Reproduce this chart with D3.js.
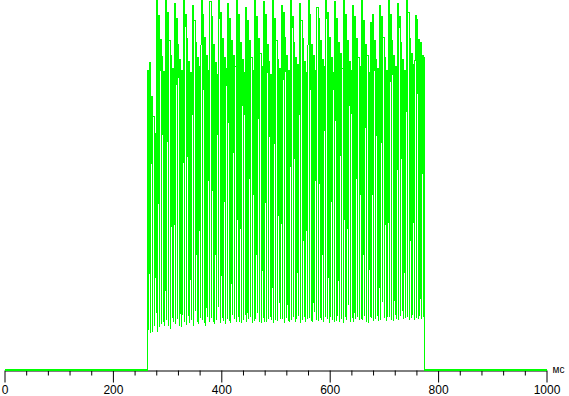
<!DOCTYPE html>
<html>
<head>
<meta charset="utf-8">
<script src="https://cdn.jsdelivr.net/npm/d3@7"></script>
<style>
  html, body { margin: 0; padding: 0; background: #fff; }
  svg { display: block; }
</style>
</head>
<body>
<svg id="chart" width="569" height="396"></svg>
<script>
// ---- data (time in ms, brightness in % of the top of the plot) ----
const majorTicks = [0, 200, 400, 600, 800, 1000];
const minorTicks = [40, 80, 120, 160, 240, 280, 320, 360, 440, 480, 520, 560, 640, 680, 720, 760, 840, 880, 920, 960];
const unitLabel = "мс";
const pulseStart = 264;   // ms, rising edge
const pulseEnd = 774;     // ms, falling edge

// plateau level of each oscillation (one row per ~16.4 ms envelope period)
const highs = [
  81, 83, 74, 68.5, 64,
  101, 95.7, 89.4, 84.6, 80.8,
  100, 96.5, 89, 85, 81.5,
  99, 95, 88, 84, 81,
  101, 96, 89.5, 83.5, 80.5,
  98.5, 94.5, 88.5, 84.5, 82,
  100.5, 96, 90, 85, 81,
  99.5, 95.5, 88, 83, 80,
  101, 96.5, 89.5, 84.5, 81.5,
  99, 95, 89, 85, 82,
  100, 96, 88.5, 84, 80.5,
  98, 94.5, 89, 84.5, 81,
  100.5, 95.5, 89.5, 85.5, 82,
  99.5, 96, 88, 83.5, 80,
  101, 95, 89, 84, 81.5,
  98.5, 96.5, 90, 85, 81,
  100, 95.5, 88.5, 84.5, 82.5,
  99, 94.5, 89.5, 83.5, 80.5,
  100.5, 96, 88, 85, 81,
  98, 95, 89, 84, 82,
  101, 96.5, 90, 84.5, 80.5,
  99.5, 95, 88.5, 85.5, 81.5,
  100, 96, 89, 83.5, 81,
  98.5, 95.5, 89.5, 84.5, 82,
  100.5, 94.5, 88, 85, 80.5,
  94, 96, 89, 84, 81.5,
  98.6, 95.5, 90, 84.5, 81,
  101, 96, 89, 85, 82,
  99, 95.5, 88.5, 84, 81,
  100, 96.5, 89.5, 85.5, 82.5,
  95.7, 94.6, 89.4, 88.6, 85.1,
  84.6
];

// bottom of each oscillation dip
const lows = [
  10.7, 10, 10.3, 11.8, 15.5,
  10.4, 11.5, 12.5, 13, 12,
  13.5, 12, 11, 14, 13,
  12.5, 13.8, 12, 11.5, 15,
  13, 12.2, 14.5, 12.8, 13.5,
  12, 16, 13, 12.5, 14,
  13.5, 12.7, 12, 14.2, 13,
  14, 13, 12.4, 13.6, 17,
  12.8, 14, 13.2, 12.5, 13.8,
  13.3, 12.6, 15, 13.8, 12.9,
  14.2, 13.1, 12.7, 13.5, 14.8,
  12.9, 13.7, 14.3, 12.6, 13.2,
  13.8, 15.5, 13, 12.8, 14,
  13.1, 12.9, 13.9, 14.4, 13.4,
  12.7, 13.6, 13.2, 18, 13.9,
  13.9, 12.8, 14.1, 13.3, 12.9,
  13.4, 14.3, 12.9, 13.7, 14.6,
  12.8, 13.5, 14.2, 13.1, 13.8,
  14.1, 13.2, 12.9, 15.8, 13.4,
  13.3, 14, 13.6, 12.9, 14.4,
  13.9, 12.8, 14.3, 13.5, 13.1,
  13.2, 14.5, 13, 13.8, 12.7,
  14.3, 13.4, 17.5, 13.1, 14,
  12.9, 13.8, 14.2, 13.4, 13.7,
  13.6, 14.7, 13.1, 12.8, 14.3,
  14, 13.3, 13.9, 14.6, 13.2,
  13.5, 18.5, 14.1, 13.3, 14.4,
  14.2, 13.6, 13.2, 14.8, 13.9,
  13.4, 14.5, 16, 13.7, 14.1,
  14.4, 13.5, 14, 14.9, 13.6,
  14.1, 13.8, 14.6, 13.9, 14.3
];

// ---- chart ----
const svg = d3.select("#chart");
const x = d3.scaleLinear().domain([0, 1000]).range([4.5, 546.5]);
const y = d3.scaleLinear().domain([0, 100]).range([370, 0]);

// signal samples: plateau at highs[i], narrow dip to lows[i]
const n = lows.length;
const T = (pulseEnd - pulseStart) / n;
const pts = [[pulseStart, 0]];
for (let i = 0; i < n; i++) {
  const t = pulseStart + i * T;
  pts.push([t, highs[i]]);
  pts.push([t + 0.6 * T, highs[i]]);
  pts.push([t + 0.75 * T, lows[i]]);
}
pts.push([pulseEnd, highs[n]]);
pts.push([pulseEnd, 0]);
const baseBefore = [[0, 0], [pulseStart, 0]];
const baseAfter = [[pulseEnd, 0], [1000, 0]];

// axis
const axisG = svg.append("g").attr("transform", "translate(0,370.5)");
axisG.call(d3.axisBottom(x).tickValues(minorTicks).tickSize(5).tickSizeOuter(0).tickFormat(""));
axisG.call(g => g.select(".domain").remove());
const majorG = svg.append("g").attr("transform", "translate(0,370.5)");
majorG.call(d3.axisBottom(x).tickValues(majorTicks).tickSize(12).tickSizeOuter(0).tickPadding(3).tickFormat(d3.format("d")));
svg.selectAll(".tick line").attr("stroke", "#000");
svg.selectAll(".domain").attr("stroke", "#000");
majorG.selectAll("text")
  .attr("fill", "#000")
  .style("font-family", "'Liberation Sans', Arial, sans-serif")
  .style("font-size", "12px");

// unit label
svg.append("text")
  .attr("x", x(1000) + 6)
  .attr("y", 373)
  .attr("fill", "#000")
  .style("font-family", "'Liberation Sans', Arial, sans-serif")
  .style("font-size", "10px")
  .text(unitLabel);

// signal
const line = d3.line().x(d => x(d[0])).y(d => y(d[1]));
svg.selectAll("path.base")
  .data([baseBefore, baseAfter])
  .join("path")
  .attr("class", "base")
  .attr("fill", "none")
  .attr("stroke", "#00ff00")
  .attr("stroke-width", 2)
  .attr("shape-rendering", "crispEdges")
  .attr("d", line);
svg.append("path")
  .datum(pts)
  .attr("fill", "none")
  .attr("stroke", "#00ff00")
  .attr("stroke-width", 1)
  .attr("shape-rendering", "crispEdges")
  .attr("d", line);
</script>
</body>
</html>
